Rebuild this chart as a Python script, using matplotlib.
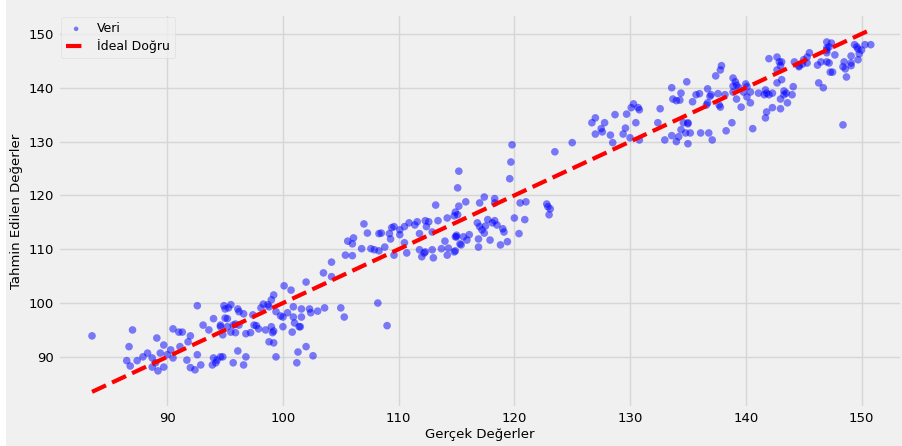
import matplotlib
matplotlib.use('Agg')
import matplotlib.pyplot as plt
from matplotlib.patches import Rectangle

# Gerçek ve tahmin edilen değerler (test seti)
gercek_a = [83.5, 87.0, 92.6, 94.9, 86.7, 89.1, 90.5, 91.0, 91.3, 89.7, 88.3, 87.9, 87.4, 86.5, 86.8,
            88.7, 89.4, 90.3, 90.0, 90.5, 91.1, 91.8, 92.0, 92.6, 91.7, 92.0, 92.4, 92.9, 88.7, 89.0,
            89.2, 89.7, 94.0, 94.3, 94.2, 93.9, 94.8, 93.1, 93.6, 94.0, 94.6, 95.0, 95.2, 94.8, 95.3]
tahmin_a = [93.9, 95.0, 99.5, 99.5, 91.9, 93.5, 95.2, 94.6, 94.6, 92.2, 90.7, 90.0, 89.3, 89.3, 88.3,
            89.8, 90.7, 91.3, 90.4, 89.8, 91.9, 92.8, 93.9, 90.4, 89.4, 88.0, 87.6, 88.5, 88.1, 88.9,
            87.4, 88.1, 89.8, 89.4, 88.9, 88.5, 90.0, 95.9, 95.0, 97.1, 95.6, 97.2, 95.6, 94.1, 99.1]

gercek_b = [100.1, 100.7, 102.0, 99.2, 99.0, 98.7, 98.3, 98.1, 98.8, 95.5, 95.0, 96.1, 96.2, 96.6, 95.2,
            97.4, 99.4, 99.8, 100.0, 100.4, 100.9, 101.6, 102.3, 102.4, 103.0, 103.6, 105.0, 105.3, 100.9, 101.0,
            101.6, 101.5, 94.6, 95.7, 95.9, 96.2, 95.5, 95.9, 96.8, 97.2, 97.5, 97.7, 97.9, 98.5, 99.0,
            99.2, 99.1, 100.0, 100.8, 101.4, 98.8, 99.2, 96.1, 94.6, 95.7, 96.6, 96.8, 99.4, 101.3, 102.0,
            102.6, 101.2]
tahmin_b = [103.2, 102.4, 103.9, 101.5, 100.6, 99.7, 99.8, 99.1, 99.3, 99.7, 98.9, 98.9, 98.4, 98.0, 97.1,
            97.8, 98.4, 97.6, 97.4, 98.2, 99.3, 98.9, 98.9, 98.2, 98.5, 99.1, 99.1, 97.4, 97.4, 96.3,
            97.4, 95.6, 95.9, 95.9, 96.1, 95.9, 94.6, 94.5, 94.3, 94.5, 95.9, 95.8, 95.2, 95.0, 95.6,
            94.8, 94.5, 95.6, 94.6, 95.6, 92.8, 92.6, 91.1, 90.0, 88.9, 88.5, 90.0, 90.0, 90.9, 91.9,
            90.2, 88.9]

gercek_c = [104.2, 104.2, 103.5, 108.2, 109.0, 105.6, 106.1, 106.0, 106.8, 107.6, 107.9, 108.3, 108.8, 105.4, 106.0,
            109.6, 110.5, 110.7, 111.8, 112.2, 112.0, 112.3, 112.9, 113.0, 113.7, 114.3, 114.2, 114.8, 114.0, 114.9,
            115.0, 115.3, 107.0, 107.3, 108.5, 108.3, 109.6, 109.4, 109.2, 109.3, 110.9, 110.5, 110.1, 110.1, 111.8,
            112.6, 112.3, 111.6, 111.4, 112.4, 112.9, 113.4, 114.2, 113.2, 115.2, 114.9, 114.8, 115.1]
tahmin_c = [107.6, 104.9, 105.6, 100.0, 95.8, 111.5, 112.1, 111.0, 110.1, 110.1, 109.9, 109.7, 110.4, 108.9, 108.8,
            108.9, 111.2, 109.3, 109.9, 109.3, 108.6, 109.5, 109.9, 108.4, 110.1, 110.2, 108.9, 109.5, 111.5, 112.3,
            112.3, 111.0, 114.7, 113.0, 113.0, 112.9, 114.2, 114.0, 112.9, 111.9, 114.9, 114.2, 113.6, 112.7, 112.9,
            115.1, 115.3, 115.1, 114.5, 114.2, 113.2, 115.3, 115.8, 118.2, 118.0, 116.9, 116.2, 116.4]

gercek_d = [119.8, 119.7, 119.6, 115.2, 115.1, 123.5, 125.0, 117.4, 117.0, 115.8, 118.3, 118.3, 120.5, 121.0, 122.8,
            122.9, 123.1, 123.0, 120.0, 120.9, 120.4, 116.8, 117.0, 117.5, 117.7, 118.1, 118.3, 118.5, 119.0, 119.1,
            117.2, 117.4, 115.9, 116.1, 116.9, 116.9, 117.9, 118.8, 119.4, 115.4, 114.9, 115.0, 115.6]
tahmin_d = [129.4, 126.2, 123.1, 124.5, 121.4, 128.1, 129.8, 119.7, 118.6, 118.8, 119.4, 118.6, 118.6, 118.8, 118.4,
            117.9, 117.5, 116.4, 115.8, 115.5, 112.9, 114.9, 114.2, 114.3, 115.5, 114.9, 115.3, 114.5, 113.8, 113.2,
            113.6, 113.0, 111.7, 112.7, 111.9, 110.4, 111.7, 110.8, 111.4, 110.8, 109.7, 112.6, 112.3]

gercek_e = [126.7, 127.0, 127.0, 127.5, 127.6, 127.8, 128.3, 128.5, 128.7, 129.4, 129.6, 129.7, 130.0, 130.1, 130.3,
            130.7, 130.8, 130.5, 130.8, 132.6, 132.4, 133.0, 133.6, 134.0, 134.2, 134.4, 134.6, 135.0, 134.8, 135.2,
            135.0, 133.6, 134.4, 134.9, 133.7, 134.0, 134.3]
tahmin_e = [133.5, 134.4, 131.4, 132.4, 131.8, 133.5, 131.2, 129.8, 135.0, 131.4, 132.5, 135.1, 130.7, 136.3, 137.0,
            136.3, 135.9, 133.5, 130.3, 136.1, 133.5, 130.3, 131.1, 130.0, 130.9, 132.2, 133.5, 133.5, 131.6, 131.6,
            129.6, 140.0, 139.0, 141.1, 137.9, 137.6, 137.7]

gercek_f = [137.9, 137.8, 137.4, 138.9, 139.1, 139.2, 138.9, 139.4, 140.0, 140.1, 136.7, 137.0, 137.6, 136.9, 136.0,
            135.7, 135.4, 136.7, 136.6, 137.7, 137.8, 138.2, 138.9, 139.2, 139.6, 140.4, 139.8, 140.1, 140.4, 141.1,
            141.6, 141.8, 142.0, 142.3, 141.7, 142.3, 141.8, 141.7, 143.0, 143.0, 143.5, 143.3, 144.0, 143.6, 144.1,
            138.8, 138.3, 140.6, 135.0, 136.1, 136.8, 137.1, 142.0, 142.7, 142.9, 143.1, 143.0, 142.7, 144.2, 144.6,
            144.9, 145.3, 145.0, 145.5, 145.3, 143.1, 142.7, 143.3, 144.6]
tahmin_f = [144.1, 143.3, 142.2, 141.8, 141.1, 140.5, 140.3, 140.0, 140.7, 140.2, 139.8, 138.7, 138.9, 138.4, 138.9,
            138.7, 137.4, 137.2, 136.8, 136.8, 136.4, 138.7, 139.2, 137.9, 136.4, 137.2, 139.2, 138.3, 139.2, 139.0,
            138.7, 139.0, 138.7, 139.0, 139.6, 136.3, 135.5, 134.4, 136.1, 137.9, 139.0, 138.7, 138.7, 137.2, 140.2,
            133.5, 132.0, 132.4, 133.3, 131.6, 131.6, 130.3, 145.4, 145.7, 144.8, 144.8, 144.1, 143.3, 144.8, 144.1,
            144.4, 145.7, 145.2, 146.5, 144.6, 141.5, 140.9, 139.4, 143.9]

gercek_g = [147.0, 147.4, 147.2, 147.0, 147.0, 147.0, 149.4, 149.6, 149.7, 150.0, 149.8, 150.3, 150.8, 149.1, 149.7,
            149.1, 149.1, 148.5, 148.4, 148.6, 148.7, 147.7, 147.5, 147.3, 146.2, 146.5, 147.0, 147.2, 146.3, 146.7,
            148.4]
tahmin_g = [148.5, 148.3, 147.6, 147.4, 147.0, 146.5, 148.0, 147.6, 147.2, 147.0, 146.3, 148.0, 148.0, 145.9, 145.2,
            144.6, 144.1, 144.8, 143.9, 143.5, 142.0, 146.1, 142.9, 142.9, 144.2, 144.8, 144.8, 144.6, 140.9, 140.0,
            133.1]

y_test = gercek_a + gercek_b + gercek_c + gercek_d + gercek_e + gercek_f + gercek_g
y_pred = tahmin_a + tahmin_b + tahmin_c + tahmin_d + tahmin_e + tahmin_f + tahmin_g

plt.style.use('fivethirtyeight')
plt.rcParams['font.family'] = ['DejaVu Sans']

fig = plt.figure(figsize=(9.02, 4.46), dpi=100)
ax = fig.add_axes([0.0643, 0.0852, 0.9357, 0.8834])

ax.scatter(y_test, y_pred, color='blue', alpha=0.5, s=30, edgecolors='none', label='Veri')
lo, hi = min(y_test), max(y_test)
ax.plot([lo, hi], [lo, hi], color='red', linestyle='--', linewidth=3, label='İdeal Doğru')

ax.set_xlim(80.56, 153.5)
ax.set_ylim(80.5, 153.7)
ax.set_xticks([90, 100, 110, 120, 130, 140, 150])
ax.set_yticks([90, 100, 110, 120, 130, 140, 150])
ax.tick_params(labelsize=9.5, pad=3)
ax.grid(True, color='#d6d6d6', linewidth=1)

ax.set_xlabel('Gerçek Değerler', fontsize=9.5, labelpad=2)
ax.set_ylabel('Tahmin Edilen Değerler', fontsize=9.5, labelpad=4)

leg = ax.legend(loc='upper left', fontsize=9, scatterpoints=1, markerscale=0.6,
                handlelength=1.6, handletextpad=0.9, borderaxespad=0.25,
                labelspacing=0.35, frameon=True)
leg.get_frame().set_facecolor('#f0f0f0')
leg.get_frame().set_edgecolor('#dcdcdc')

# thin white strip on the left edge of the image
fig.patches.append(Rectangle((0, 0), 6 / 902, 1, transform=fig.transFigure,
                             facecolor='white', edgecolor='none', zorder=10))

fig.savefig('out.png', dpi=100, facecolor=fig.get_facecolor())
